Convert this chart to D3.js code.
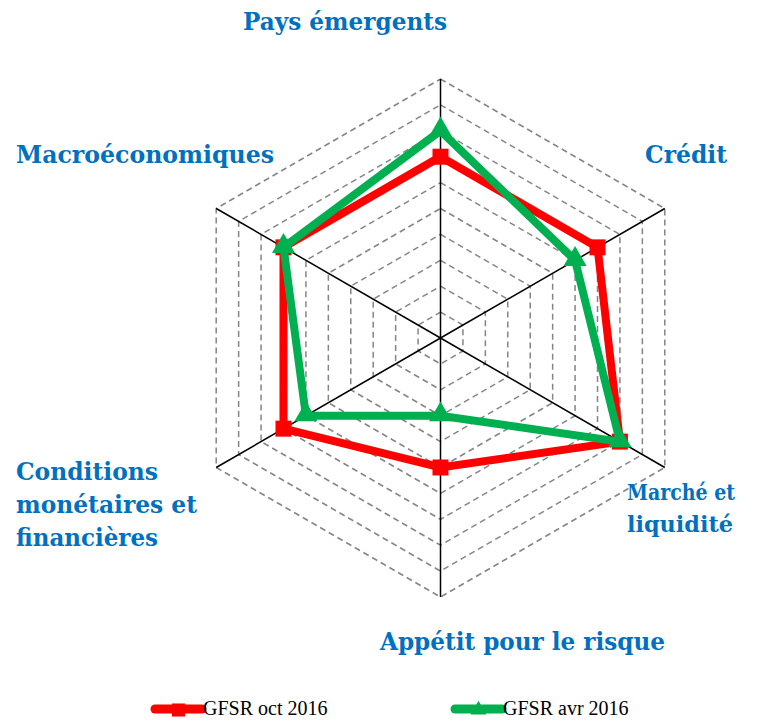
<!DOCTYPE html>
<html>
<head>
<meta charset="utf-8">
<script src="https://cdn.jsdelivr.net/npm/d3@7"></script>
<style>
  html, body { margin: 0; padding: 0; background: #fff; }
  svg { display: block; }
  .lbl { font-family: "DejaVu Serif", serif; font-weight: bold; }
  .leg { font-family: "Liberation Serif", "DejaVu Serif", serif; }
</style>
</head>
<body>
<svg id="chart" width="763" height="721"></svg>
<script>
// ---- Data ----
const categories = ["Pays émergents", "Crédit", "Marché et liquidité", "Appétit pour le risque", "Conditions monétaires et financières", "Macroéconomiques"];
const seriesNames = ["GFSR oct 2016", "GFSR avr 2016"];
const oct2016 = [7, 7, 8, 5, 7, 7];
const avr2016 = [8, 6, 8, 3, 6, 7];
const levels = [1, 2, 3, 4, 5, 6, 7, 8, 9, 10];

// ---- Layout ----
const svg = d3.select("#chart");
const cx = 440.5, cy = 338, R = 259;
const rScale = d3.scaleLinear().domain([0, 10]).range([0, R]);
const angle = d3.scaleLinear().domain([0, categories.length]).range([-Math.PI / 2, 1.5 * Math.PI]);
const pt = (i, v) => [cx + rScale(v) * Math.cos(angle(i)), cy + rScale(v) * Math.sin(angle(i))];

const g = svg.append("g");

// dashed rings
g.selectAll("path.ring").data(levels).join("path")
  .attr("class", "ring")
  .attr("d", lv => d3.line()(categories.map((c, i) => pt(i, lv))) + "Z")
  .attr("fill", "none")
  .attr("stroke", "#858585")
  .attr("stroke-width", 1.5)
  .attr("stroke-dasharray", "6,4");

// axes
g.selectAll("line.axis").data(categories).join("line")
  .attr("class", "axis")
  .attr("x1", cx).attr("y1", cy)
  .attr("x2", (c, i) => pt(i, 10)[0])
  .attr("y2", (c, i) => pt(i, 10)[1])
  .attr("stroke", "#000")
  .attr("stroke-width", 1.5);

const series = [
  { name: seriesNames[0], values: oct2016, color: "#FF0000", marker: "square" },
  { name: seriesNames[1], values: avr2016, color: "#00B050", marker: "triangle" }
];

const sym = {
  square: d3.symbol().type(d3.symbolSquare).size(256),
  triangle: d3.symbol().type(d3.symbolTriangle).size(230)
};

series.forEach(s => {
  const pts = s.values.map((v, i) => pt(i, v));
  g.append("path")
    .attr("d", d3.line()(pts) + "Z")
    .attr("fill", "none")
    .attr("stroke", s.color)
    .attr("stroke-width", 8)
    .attr("stroke-linejoin", "miter");
  g.selectAll(null).data(pts).join("path")
    .attr("transform", d => `translate(${d[0]},${d[1] + (s.marker === "triangle" ? -1 : 0)})`)
    .attr("d", sym[s.marker])
    .attr("fill", s.color);
});

// category labels
const labels = [
  { lines: ["Pays émergents"], x: 243, y: [30], w: [204], fs: 25 },
  { lines: ["Crédit"], x: 645, y: [163], w: [82], fs: 25 },
  { lines: ["Marché et", "liquidité"], x: 627, y: [500, 532], w: [108, 106], fs: 23 },
  { lines: ["Appétit pour le risque"], x: 380, y: [650], w: [285], fs: 25 },
  { lines: ["Conditions", "monétaires et", "financières"], x: 16, y: [480, 513, 546], w: [142, 181, 142], fs: 25 },
  { lines: ["Macroéconomiques"], x: 16, y: [163], w: [258], fs: 25 }
];
labels.forEach(l => {
  l.lines.forEach((t, j) => {
    svg.append("text")
      .attr("class", "lbl")
      .attr("x", l.x).attr("y", l.y[j])
      .attr("font-size", l.fs)
      .attr("fill", "#0070C0")
      .attr("textLength", l.w[j])
      .attr("lengthAdjust", "spacingAndGlyphs")
      .text(t);
  });
});

// legend
const legend = [
  { s: series[0], x1: 155, x2: 202, tx: 203 },
  { s: series[1], x1: 455, x2: 502, tx: 503 }
];
const ly = 709;
legend.forEach(L => {
  svg.append("line")
    .attr("x1", L.x1).attr("x2", L.x2).attr("y1", ly).attr("y2", ly)
    .attr("stroke", L.s.color).attr("stroke-width", 9).attr("stroke-linecap", "round");
  svg.append("path")
    .attr("transform", `translate(${(L.x1 + L.x2) / 2},${ly + 1})`)
    .attr("d", d3.symbol().type(L.s.marker === "square" ? d3.symbolSquare : d3.symbolTriangle).size(L.s.marker === "square" ? 170 : 110))
    .attr("fill", L.s.color);
  svg.append("text")
    .attr("class", "leg")
    .attr("x", L.tx).attr("y", ly + 6)
    .attr("font-size", 20)
    .attr("fill", "#000")
    .text(L.s.name);
});
</script>
</body>
</html>
